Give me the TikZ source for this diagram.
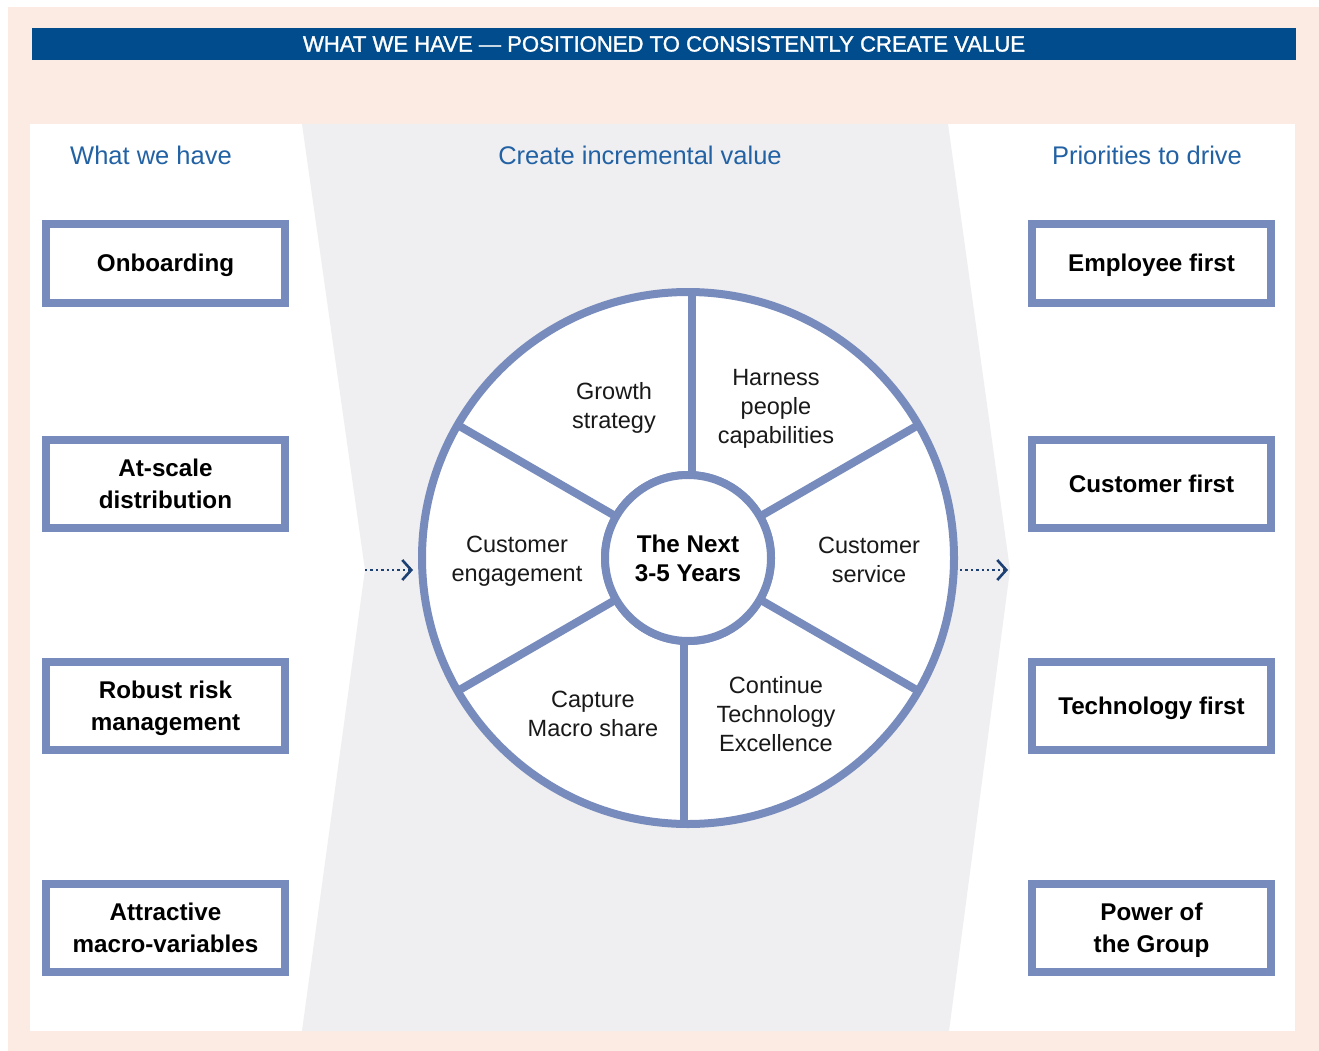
\documentclass[tikz,border=0pt]{standalone}
\usepackage{fontspec}
\setmainfont{Liberation Sans}
\newfontfamily\bannerfam{Liberation Sans}[FakeBold=1.4]
\usetikzlibrary{arrows.meta}
\definecolor{peach}{HTML}{FCEBE3}
\definecolor{banner blue}{HTML}{004C8D}
\definecolor{band gray}{HTML}{EFEFF1}
\definecolor{wheel edge}{HTML}{788BBD}
\definecolor{head blue}{HTML}{2262A4}
\definecolor{arrow navy}{HTML}{1C3F74}
\def\titlefnt{\bannerfam\fontsize{22.1}{26}\selectfont}
\def\headfnt{\fontsize{25.5}{30}\selectfont}
\def\boldfnt{\fontsize{24.2}{32}\selectfont\bfseries}
\def\hubfnt{\fontsize{24.2}{29}\selectfont\bfseries}
\def\wheelfnt{\fontsize{23.5}{29}\selectfont}
\def\havelist{{165.5/263/79/onboard/Onboarding}, {165.5/484/88/scale/At-scale\\distribution}, {165.5/706/88/risk/Robust risk\\management}, {165.5/927.5/88/macro/Attractive\\macro-variables}}
\def\drivelist{{1151.5/263/79/employee/Employee first}, {1151.5/484/88/customer/Customer first}, {1151.5/706/88/tech/Technology first}, {1151.5/927.5/88/group/Power of\\the Group}}
\def\segments{{614/408/growth/Growth\\strategy}, {776/409/people/Harness\\people\\capabilities}, {517/561/engage/Customer\\engagement}, {869/560/service/Customer\\service}, {593/714/capture/Capture\\Macro share}, {776/714/excel/Continue\\Technology\\Excellence}}
\tikzstyle{pillar box}=[draw=wheel edge, line width=8pt, fill=white, minimum width=239pt, align=center, font=\boldfnt, text depth=0pt, outer sep=0pt]
\tikzstyle{heading}=[text=head blue, font=\headfnt]
\tikzstyle{segment}=[align=center, font=\wheelfnt, text=black!90]
\tikzstyle{ring}=[circle, draw=wheel edge, line width=8pt, fill=white, inner sep=0pt, outer sep=0pt]
\tikzstyle{spoke}=[draw=wheel edge, line width=8pt]
\tikzstyle{flow}=[draw=arrow navy, line width=2.6pt, dash pattern=on 2.4pt off 3pt, -{Straight Barb[length=9pt,width=20pt,line width=2.6pt]}]

\begin{document}
\begin{tikzpicture}[x=1pt,y=-1pt]
  \useasboundingbox (0,0) rectangle (1319,1051);

  % backgrounds
  \fill[peach] (8,7) rectangle (1319,1051);
  \fill[white] (30,124) rectangle (1295,1031);
  \fill[band gray] (302,124) -- (948,124) -- (1010,570) -- (949,1031) -- (302,1031) -- (365,570) -- cycle;

  % the title bar
  \node[fill=banner blue, minimum width=1264pt, minimum height=32pt, text=white, font=\titlefnt, inner sep=0pt] (banner) at (664,44) {WHAT WE HAVE — POSITIONED TO CONSISTENTLY CREATE VALUE};

  % column headings
  \node[heading] (have) at (151,155) {What we have};
  \node[heading] (create) at (640,155) {Create incremental value};
  \node[heading] (drive) at (1147,155) {Priorities to drive};

  % the boxes on both sides
  \foreach \x/\y/\h/\name/\txt in \havelist
    \node[pillar box, minimum height=\h pt] (\name) at (\x,\y) {\txt};
  \foreach \x/\y/\h/\name/\txt in \drivelist
    \node[pillar box, minimum height=\h pt] (\name) at (\x,\y) {\txt};

  % the wheel
  \node[ring, minimum size=532pt] (wheel) at (688,558) {};
  \node[ring, minimum size=166pt] (hub) at (688,558) {};
  \foreach \a/\dx in {30/0, 90/3.5, 150/0, 210/0, 270/-4, 330/0}
    \path[spoke] ([xshift=\dx pt]hub.\a) -- ([xshift=\dx pt]wheel.\a);
  \node[ring, minimum size=166pt, align=center, font=\hubfnt] (hub) at (688,558) {The Next\\3-5 Years};

  % the segment texts
  \foreach \x/\y/\name/\txt in \segments
    \node[segment] (\name) at (\x,\y) {\txt};

  % in and out
  \coordinate (feed) at (365,570);
  \coordinate (out) at (1008,570);
  \path[flow, shorten >=9pt] (feed) -- (feed -| wheel.west);
  \path[flow, shorten <=6pt] (feed -| wheel.east) -- (out);
\end{tikzpicture}
\end{document}
